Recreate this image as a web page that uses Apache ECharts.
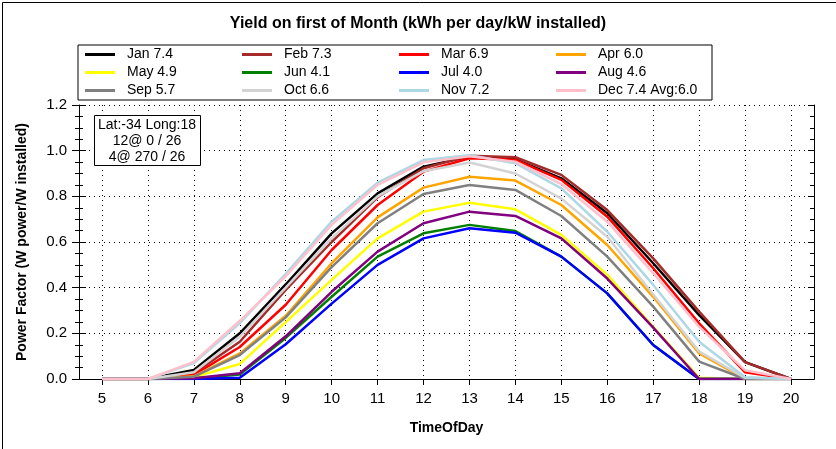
<!DOCTYPE html>
<html>
<head>
<meta charset="utf-8">
<script src="https://cdn.jsdelivr.net/npm/echarts@6/dist/echarts.min.js"></script>
<style>
html, body { margin: 0; padding: 0; background: #fff; }
#chart { width: 836px; height: 449px; }
</style>
</head>
<body>
<div id="chart"></div>
<script>
// hours of the day
var hours = [5, 6, 7, 8, 9, 10, 11, 12, 13, 14, 15, 16, 17, 18, 19, 20];

var names = ['Jan 7.4', 'Feb 7.3', 'Mar 6.9', 'Apr 6.0', 'May 4.9', 'Jun 4.1',
             'Jul 4.0', 'Aug 4.6', 'Sep 5.7', 'Oct 6.6', 'Nov 7.2', 'Dec 7.4 Avg:6.0'];

var colors = ['#000000', '#a52a2a', '#ff0000', '#ffa500', '#ffff00', '#008000',
              '#0000ff', '#800080', '#808080', '#d3d3d3', '#add8e6', '#ffc0cb'];

// power factor per hour (5..20)
var jan = [0, 0, 0.039, 0.200, 0.414, 0.638, 0.813, 0.930, 0.974, 0.962, 0.879, 0.726, 0.507, 0.280, 0.074, 0];
var feb = [0, 0, 0.025, 0.163, 0.390, 0.600, 0.796, 0.923, 0.978, 0.971, 0.894, 0.740, 0.528, 0.295, 0.074, 0];
var mar = [0, 0, 0.018, 0.140, 0.325, 0.565, 0.762, 0.908, 0.967, 0.960, 0.872, 0.711, 0.485, 0.244, 0.029, 0];
var apr = [0, 0, 0.012, 0.112, 0.277, 0.507, 0.708, 0.838, 0.886, 0.869, 0.762, 0.587, 0.360, 0.112, 0, 0];
var may = [0, 0, 0.008, 0.066, 0.249, 0.434, 0.616, 0.733, 0.772, 0.743, 0.631, 0.456, 0.229, 0.005, 0, 0];
var jun = [0, 0, 0.002, 0.020, 0.180, 0.360, 0.536, 0.638, 0.675, 0.648, 0.536, 0.375, 0.149, 0, 0, 0];
var jul = [0, 0, 0, 0.005, 0.152, 0.330, 0.500, 0.616, 0.660, 0.641, 0.536, 0.375, 0.149, 0, 0, 0];
var aug = [0, 0, 0.003, 0.025, 0.187, 0.382, 0.558, 0.682, 0.733, 0.714, 0.616, 0.440, 0.225, 0, 0, 0];
var sep = [0, 0, 0.010, 0.105, 0.270, 0.490, 0.682, 0.810, 0.850, 0.828, 0.714, 0.536, 0.317, 0.076, 0, 0];
var oct = [0, 0, 0.030, 0.185, 0.400, 0.616, 0.800, 0.910, 0.948, 0.900, 0.790, 0.623, 0.370, 0.120, 0.005, 0];
var nov = [0, 0, 0.070, 0.245, 0.461, 0.689, 0.860, 0.959, 0.980, 0.945, 0.835, 0.645, 0.412, 0.163, 0.008, 0];
var dec = [0, 0, 0.075, 0.255, 0.450, 0.675, 0.850, 0.949, 0.975, 0.952, 0.854, 0.689, 0.463, 0.229, 0.038, 0];

var months = [jan, feb, mar, apr, may, jun, jul, aug, sep, oct, nov, dec];

var infoText = 'Lat:-34 Long:18\n12@ 0 / 26\n4@ 270 / 26';

var FONT = 'Liberation Sans';

var chart = echarts.init(document.getElementById('chart'));

var series = months.map(function (vals, i) {
    return {
        name: names[i],
        type: 'line',
        showSymbol: false,
        symbol: 'none',
        color: colors[i],
        lineStyle: { width: 2.5, color: colors[i] },
        data: hours.map(function (h, j) { return [h, vals[j]]; })
    };
});

var yBase = { type: 'value', min: 0, max: 1.2, interval: 0.2 };

var option = {
    animation: false,
    backgroundColor: '#fff',
    textStyle: { fontFamily: FONT },
    title: {
        text: 'Yield on first of Month (kWh per day/kW installed)',
        left: 'center',
        top: 11,
        textStyle: { fontFamily: FONT, fontSize: 16, fontWeight: 'bold', color: '#000' }
    },
    legend: {
        data: names,
        left: 78,
        top: 45,
        width: 640,
        orient: 'horizontal',
        icon: 'rect',
        itemWidth: 30,
        itemHeight: 3,
        itemGap: 1,
        padding: [1, 0, 1, 7],
        borderColor: '#000',
        borderWidth: 1,
        textStyle: {
            fontFamily: FONT, fontSize: 14, color: '#000',
            width: 114, lineHeight: 17, padding: [0, 0, 0, 7]
        }
    },
    grid: { left: 79, right: 22, top: 105, bottom: 70, containLabel: false },
    xAxis: [{
        type: 'value',
        min: 4.5,
        max: 20.5,
        name: 'TimeOfDay',
        nameLocation: 'middle',
        nameGap: 42,
        nameTextStyle: { fontFamily: FONT, fontSize: 14, fontWeight: 'bold', color: '#000' },
        axisLine: { show: true, lineStyle: { color: '#000', width: 1 } },
        axisTick: { show: true, length: 6, customValues: hours, lineStyle: { color: '#000' } },
        axisLabel: { customValues: hours, fontSize: 15, color: '#000', margin: 12 },
        splitLine: { show: true, lineStyle: { color: '#000', type: [1, 4], width: 1 } }
    }, {
        type: 'value',
        position: 'top',
        min: 4.5,
        max: 20.5,
        axisLine: { show: true, lineStyle: { color: '#000', width: 1 } },
        axisTick: { show: true, inside: true, length: 6, customValues: hours, lineStyle: { color: '#000' } },
        axisLabel: { show: false, customValues: hours },
        splitLine: { show: false }
    }],
    yAxis: [Object.assign({}, yBase, {
        name: 'Power Factor (W power/W installed)',
        nameLocation: 'middle',
        nameGap: 50,
        nameTextStyle: { fontFamily: FONT, fontSize: 14, fontWeight: 'bold', color: '#000' },
        axisLine: { show: true, lineStyle: { color: '#000', width: 1 } },
        axisTick: { show: true, length: 7, lineStyle: { color: '#000' } },
        minorTick: { show: true, splitNumber: 4, length: 4, lineStyle: { color: '#000' } },
        axisLabel: {
            fontSize: 15, color: '#000', margin: 12,
            formatter: function (v) { return v.toFixed(1); }
        },
        splitLine: { show: true, lineStyle: { color: '#000', type: [1, 4], width: 1 } }
    }), Object.assign({}, yBase, {
        position: 'left',
        axisLine: { show: false },
        axisTick: { show: true, inside: true, length: 7, lineStyle: { color: '#000' } },
        minorTick: { show: true, splitNumber: 4, length: 4, lineStyle: { color: '#000' } },
        axisLabel: { show: false },
        splitLine: { show: false }
    }), Object.assign({}, yBase, {
        position: 'right',
        axisLine: { show: true, lineStyle: { color: '#000', width: 1 } },
        axisTick: { show: true, inside: true, length: 6, lineStyle: { color: '#000' } },
        minorTick: { show: true, splitNumber: 4, length: 4, lineStyle: { color: '#000' } },
        axisLabel: { show: false },
        splitLine: { show: false }
    })],
    graphic: [{
        type: 'rect',
        left: 0,
        top: 0,
        shape: { x: 0, y: 0, width: 835, height: 448 },
        style: { fill: 'none', stroke: '#000', lineWidth: 1 },
        silent: true,
        z: 100
    }, {
        type: 'rect',
        shape: { x: 94.5, y: 115.5, width: 106, height: 50 },
        style: { fill: '#fff', stroke: '#000', lineWidth: 1 },
        z: 100
    }, {
        type: 'text',
        x: 147,
        y: 117,
        style: {
            text: infoText,
            fontFamily: FONT,
            fontSize: 14,
            lineHeight: 16,
            fill: '#000',
            align: 'center',
            verticalAlign: 'top'
        },
        z: 101
    }],
    series: series
};

chart.setOption(option);
</script>
</body>
</html>
